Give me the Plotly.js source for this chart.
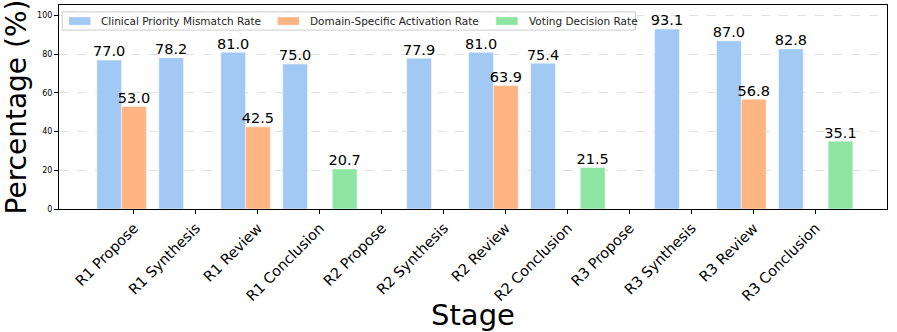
<!DOCTYPE html>
<html>
<head>
<meta charset="utf-8">
<script src="https://cdn.plot.ly/plotly-3.0.1.min.js"></script>
<style>
  html, body { margin: 0; padding: 0; background: #fff; }
  #chart { width: 897px; height: 332px; }
</style>
</head>
<body>
<div id="chart"></div>
<script>
const stages = ['R1 Propose', 'R1 Synthesis', 'R1 Review', 'R1 Conclusion',
                'R2 Propose', 'R2 Synthesis', 'R2 Review', 'R2 Conclusion',
                'R3 Propose', 'R3 Synthesis', 'R3 Review', 'R3 Conclusion'];
const mismatchRate = [77.0, 78.2, 81.0, 75.0, null, 77.9, 81.0, 75.4, null, 93.1, 87.0, 82.8];
const activationRate = [53.0, null, 42.5, null, null, null, 63.9, null, null, null, 56.8, null];
const votingRate = [null, null, null, 20.7, null, null, null, 21.5, null, null, null, 35.1];

const seriesNames = ['Clinical Priority Mismatch Rate', 'Domain-Specific Activation Rate', 'Voting Decision Rate'];
const colors = ['#a1c9f4', '#ffb482', '#8de5a1'];
const barWidth = 0.4;
const offsets = [-0.6, -0.2, 0.2];

const idx = stages.map((_, i) => i);
const allSeries = [mismatchRate, activationRate, votingRate];

const traces = [];
allSeries.forEach((vals, k) => {
    traces.push({
        type: 'bar',
        name: seriesNames[k],
        x: idx,
        y: vals,
        width: barWidth,
        offset: offsets[k],
        marker: { color: colors[k], line: { color: 'rgba(255,255,255,0.6)', width: 0.8 } },
        hoverinfo: 'skip'
    });
});

// value labels on top of the bars
allSeries.forEach((vals, k) => {
    const xs = [], ys = [], ts = [];
    vals.forEach((v, i) => {
        if (v === null) return;
        xs.push(i + offsets[k] + barWidth / 2);
        ys.push(v);
        ts.push(v.toFixed(1));
    });
    traces.push({
        type: 'scatter', mode: 'text',
        x: xs, y: ys, text: ts,
        textposition: 'top center',
        textfont: { size: 14.5, color: '#000' },
        showlegend: false, cliponaxis: false, hoverinfo: 'skip'
    });
});

// compact legend box (the built-in one is too tall and hides labels)
const legendBox = { x0: 0.004, x1: 0.696, y0: 0.877, y1: 0.966 };
const swatchX = [0.012, 0.264, 0.528];
const swatchW = 0.026;
const textX = [0.048, 0.301, 0.565];
const legendMidY = (legendBox.y0 + legendBox.y1) / 2;

const shapes = [{
    type: 'rect', xref: 'paper', yref: 'paper',
    x0: legendBox.x0, x1: legendBox.x1, y0: legendBox.y0, y1: legendBox.y1,
    fillcolor: 'rgba(255,255,255,0.8)', line: { color: '#cccccc', width: 1 }, layer: 'above'
}];
const annotations = [];
seriesNames.forEach((name, k) => {
    shapes.push({
        type: 'rect', xref: 'paper', yref: 'paper',
        x0: swatchX[k], x1: swatchX[k] + swatchW,
        y0: legendMidY - 0.019, y1: legendMidY + 0.019,
        fillcolor: colors[k], line: { width: 0 }, layer: 'above'
    });
    annotations.push({
        xref: 'paper', yref: 'paper', x: textX[k], y: legendMidY,
        xanchor: 'left', yanchor: 'middle', showarrow: false,
        text: name, font: { size: 10.5, color: '#222' }
    });
});

const layout = {
    width: 897, height: 332,
    margin: { l: 59, r: 10, t: 5, b: 123 },
    paper_bgcolor: '#fff', plot_bgcolor: '#fff',
    font: { family: 'DejaVu Sans, sans-serif', color: '#000' },
    barmode: 'overlay',
    showlegend: false,
    shapes: shapes,
    annotations: annotations,
    xaxis: {
        range: [-1.21, 12.15],
        tickmode: 'array', tickvals: idx, ticktext: stages,
        tickangle: -45, tickfont: { size: 14.5 },
        ticks: 'outside', ticklen: 4, tickcolor: '#000',
        showline: true, linecolor: '#000', linewidth: 1, mirror: true,
        showgrid: false, zeroline: false,
        title: { text: 'Stage', font: { size: 29 }, standoff: 4 }
    },
    yaxis: {
        range: [0, 105.5],
        tickvals: [0, 20, 40, 60, 80, 100], tickfont: { size: 8 },
        ticks: 'outside', ticklen: 4, tickcolor: '#000',
        showline: true, linecolor: '#000', linewidth: 1, mirror: true,
        showgrid: true, gridcolor: '#d9d9d9', griddash: 'dash', gridwidth: 0.8,
        zeroline: false,
        title: { text: 'Percentage (%)', font: { size: 28 }, standoff: 2 }
    }
};

Plotly.newPlot('chart', traces, layout, { displayModeBar: false, staticPlot: true });
</script>
</body>
</html>
